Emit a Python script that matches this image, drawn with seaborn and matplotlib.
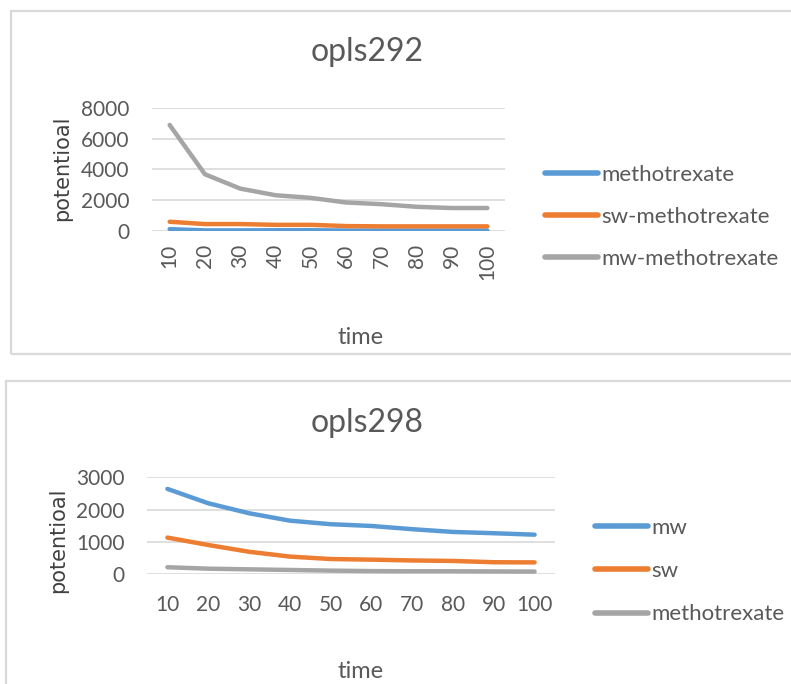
import matplotlib
matplotlib.use("Agg")
import matplotlib.pyplot as plt
from matplotlib.patches import Rectangle
import pandas as pd
import seaborn as sns

# ---- data -------------------------------------------------------------
time = [10, 20, 30, 40, 50, 60, 70, 80, 90, 100]

# opls292
opls292_methotrexate = [120, 40, 40, 50, 50, 30, 30, 30, 30, 30]
opls292_sw = [600, 450, 450, 400, 400, 320, 300, 300, 300, 300]
opls292_mw = [6880, 3680, 2750, 2320, 2150, 1850, 1740, 1570, 1490, 1490]

# opls298
opls298_mw = [2640, 2195, 1885, 1655, 1545, 1490, 1390, 1305, 1265, 1220]
opls298_sw = [1130, 900, 690, 540, 465, 445, 420, 405, 365, 360]
opls298_methotrexate = [210, 165, 145, 125, 105, 90, 85, 85, 80, 75]

labels_292 = ["methotrexate", "sw-methotrexate", "mw-methotrexate"]
labels_298 = ["mw", "sw", "methotrexate"]

BLUE, ORANGE, GRAY = "#5B9BD5", "#ED7D31", "#A5A5A5"

sns.set_theme(style="white")
plt.rcParams["font.family"] = ["Lato", "DejaVu Sans"]

W, H = 791, 684
fig = plt.figure(figsize=(W / 100, H / 100), dpi=100)
fig.patch.set_facecolor("white")

TXT = "#595959"
FS = 15
LEG_FS = 16


def px_axes(left, top, right, bottom):
    return fig.add_axes([left / W, 1 - bottom / H, (right - left) / W, (bottom - top) / H])


def long_frame(series, names):
    rows = []
    for name, vals in zip(names, series):
        for t, v in zip(time, vals):
            rows.append({"time": t, "value": v, "series": name})
    return pd.DataFrame(rows)


def style_axes(ax, ymax, ystep, rotate):
    ax.set_xlim(5, 105)
    ax.set_ylim(0, ymax)
    ax.set_xticks(time)
    ax.set_xticklabels([str(t) for t in time], rotation=90 if rotate else 0,
                       fontsize=FS, color=TXT)
    yt = list(range(0, ymax + 1, ystep))
    ax.set_yticks(yt)
    ax.set_yticklabels([str(v) for v in yt], fontsize=FS, color=TXT)
    ax.tick_params(axis="x", length=0, pad=9 if rotate else 15)
    ax.tick_params(axis="y", length=0, pad=16)
    for s in ax.spines.values():
        s.set_visible(False)
    ax.grid(axis="y", color="#D9D9D9", linewidth=1.2)
    ax.grid(axis="x", visible=False)
    ax.set_axisbelow(True)
    ax.set_xlabel("")
    ax.set_ylabel("")


def add_legend(ax, x_px, y_px, spacing):
    leg = ax.legend(loc="center left", bbox_to_anchor=(x_px / W, 1 - y_px / H),
                    bbox_transform=fig.transFigure, frameon=False, fontsize=LEG_FS,
                    handlelength=2.4, handletextpad=0.15, labelspacing=spacing,
                    borderpad=0, borderaxespad=0, labelcolor=TXT)
    for ln in leg.get_lines():
        ln.set_linewidth(4)
        ln.set_solid_capstyle("round")
    return leg


def panel(rect_px):
    x0, y0, x1, y1 = rect_px
    fig.patches.append(Rectangle((x0 / W, 1 - y1 / H), (x1 - x0) / W, (y1 - y0) / H,
                                 transform=fig.transFigure, fill=False,
                                 edgecolor="#D9D9D9", linewidth=1.6, zorder=0))


# ---- top chart: opls292 ----------------------------------------------
panel((11, 11, 800, 354))
ax1 = px_axes(152, 107.7, 505, 231)
df1 = long_frame([opls292_methotrexate, opls292_sw, opls292_mw], labels_292)
sns.lineplot(data=df1, x="time", y="value", hue="series", hue_order=labels_292,
             palette=[BLUE, ORANGE, GRAY], linewidth=3.2, ax=ax1,
             solid_capstyle="round", solid_joinstyle="round")
style_axes(ax1, 8000, 2000, rotate=True)
add_legend(ax1, 545, 217, 1.0)
fig.text(367 / W, 1 - 52 / H, "opls292", ha="center", va="center",
         fontsize=23, color=TXT)
fig.text(361 / W, 1 - 337 / H, "time", ha="center", va="center",
         fontsize=17, color=TXT)
fig.text(62 / W, 1 - 168 / H, "potentioal", ha="center", va="center",
         rotation=90, fontsize=15, color="#404040", family="DejaVu Sans")

# ---- bottom chart: opls298 -------------------------------------------
panel((6, 381, 800, 700))
ax2 = px_axes(147, 477.3, 555, 574)
df2 = long_frame([opls298_mw, opls298_sw, opls298_methotrexate], labels_298)
sns.lineplot(data=df2, x="time", y="value", hue="series", hue_order=labels_298,
             palette=[BLUE, ORANGE, GRAY], linewidth=3.2, ax=ax2,
             solid_capstyle="round", solid_joinstyle="round")
style_axes(ax2, 3000, 1000, rotate=False)
add_legend(ax2, 595, 571, 1.05)
fig.text(367 / W, 1 - 423 / H, "opls298", ha="center", va="center",
         fontsize=23, color=TXT)
fig.text(361 / W, 1 - 672 / H, "time", ha="center", va="center",
         fontsize=17, color=TXT)
fig.text(58 / W, 1 - 540 / H, "potentioal", ha="center", va="center",
         rotation=90, fontsize=15, color="#404040", family="DejaVu Sans")

fig.savefig("out.png", dpi=100, facecolor="white")
